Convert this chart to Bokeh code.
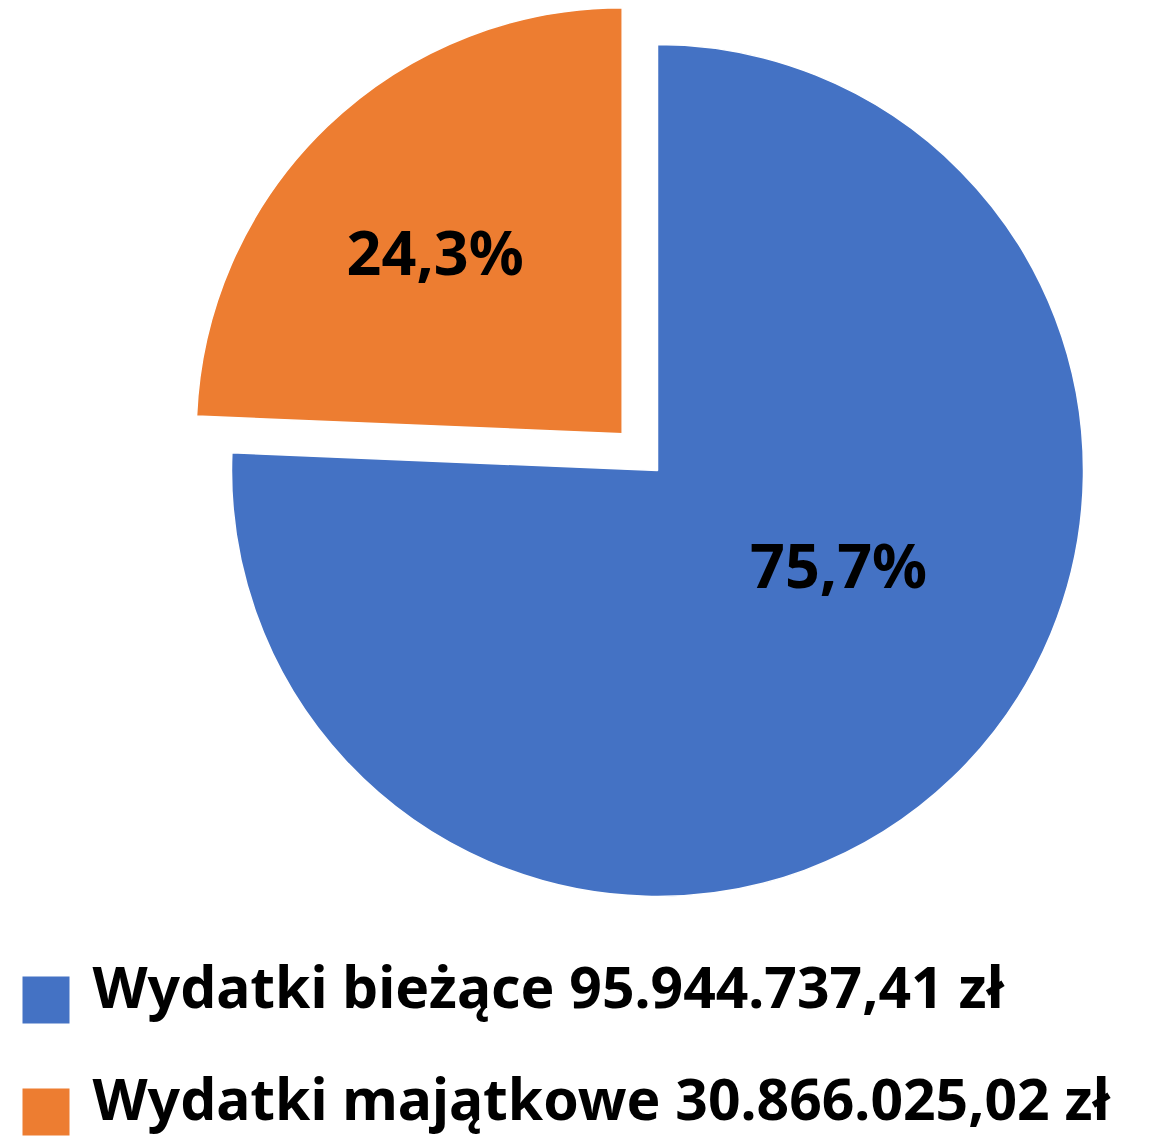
import math
from bokeh.plotting import figure
from bokeh.models import Range1d
from bokeh.core.properties import value
from bokeh.embed import file_html
from bokeh.resources import INLINE

categories = ["Wydatki bieżące", "Wydatki majątkowe"]
amounts = [95944737.41, 30866025.02]
colors = ["#4472C4", "#ED7D31"]

W, H = 1137, 1137
p = figure(width=W, height=H, output_backend="svg", toolbar_location=None,
           x_range=Range1d(0, W), y_range=Range1d(-H, 0),
           min_border=0, outline_line_color=None, border_fill_color="white")
p.axis.visible = False
p.grid.visible = False

FONT = "Noto Sans"
total = sum(amounts)
fracs = [a / total for a in amounts]

cx, cy, r = 657, -470, 426
explode = [0, 51]
# label placement (distance from slice centre, angle in degrees)
label_pos = [(207, -29), (257, 136.7)]

for i, f in enumerate(fracs):
    sweep = f * 360
    if i == 0:
        s, e = 90 - sweep, 90
    else:
        s, e = 90, 90 + sweep
    mid = math.radians((s + e) / 2)
    ox = cx + explode[i] * math.cos(mid)
    oy = cy + explode[i] * math.sin(mid)
    p.wedge(x=ox, y=oy, radius=r, start_angle=math.radians(s), end_angle=math.radians(e),
            fill_color=colors[i], line_color="white", line_width=1.5)
    pct = f"{f * 100:.1f}".replace(".", ",") + "%"
    d, a = label_pos[i]
    lx = ox + d * math.cos(math.radians(a))
    ly = oy + d * math.sin(math.radians(a)) + 6
    p.text(x=[lx], y=[ly], text=[pct], text_font=value(FONT), text_font_style="bold",
           text_font_size="61px", text_align="center", text_baseline="middle", text_color="black")


def fmt(v):
    whole, dec = f"{v:.2f}".split(".")
    parts = []
    while len(whole) > 3:
        parts.insert(0, whole[-3:])
        whole = whole[:-3]
    parts.insert(0, whole)
    return ".".join(parts) + "," + dec + " zł"

sq_y = [-999.5, -1111.5]
txt_y = [-985, -1097]
for i, c in enumerate(categories):
    p.rect(x=[45.5], y=[sq_y[i]], width=47, height=47, fill_color=colors[i], line_color=None)
    p.text(x=[92], y=[txt_y[i]], text=[f"{c} {fmt(amounts[i])}"], text_font=value(FONT),
           text_font_style="bold", text_font_size="57px", text_align="left",
           text_baseline="alphabetic", text_color="black")

open("out.html", "w").write(file_html(p, INLINE))
